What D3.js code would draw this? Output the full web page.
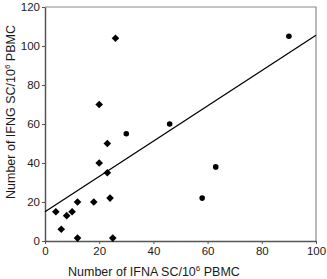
<!DOCTYPE html>
<html>
<head>
<meta charset="utf-8">
<script src="https://cdn.jsdelivr.net/npm/d3@7"></script>
<style>
  body { margin: 0; background: #fff; }
  text { font-family: "Liberation Sans", Arial, sans-serif; fill: #1a1a1a; }
</style>
</head>
<body>
<div id="chart"></div>
<script>
// diamonds
const diamondX = [4, 6, 8, 10, 12, 12, 18, 20, 20, 23, 23, 24, 25, 26];
const diamondY = [15, 6, 13, 15, 20, 1.5, 20, 70, 40, 50, 35, 22, 1.5, 104];
// circles
const circleX = [30, 46, 58, 63, 90];
const circleY = [55, 60, 22, 38, 105];
// regression line endpoints
const fitX = [0, 100];
const fitY = [15, 105.5];
const xTicks = [0, 20, 40, 60, 80, 100];
const yTicks = [0, 20, 40, 60, 80, 100, 120];

const width = 327, height = 279;
const margin = { top: 7, right: 11, bottom: 38, left: 45 };

const svg = d3.select("#chart").append("svg")
  .attr("width", width)
  .attr("height", height);

const x = d3.scaleLinear().domain([0, 100]).range([margin.left, width - margin.right]);
const y = d3.scaleLinear().domain([0, 120]).range([height - margin.bottom, margin.top]);

// top & right frame
svg.append("path")
  .attr("d", `M${x(0)},${y(120)}H${x(100)}V${y(0)}`)
  .attr("fill", "none")
  .attr("stroke", "#8a8a8a")
  .attr("stroke-width", 1.2);

const xAxis = svg.append("g")
  .attr("transform", `translate(0,${y(0)})`)
  .call(d3.axisBottom(x).tickValues(xTicks).tickSize(3).tickSizeOuter(0));
const yAxis = svg.append("g")
  .attr("transform", `translate(${x(0)},0)`)
  .call(d3.axisLeft(y).tickValues(yTicks).tickSize(3).tickSizeOuter(0));

[xAxis, yAxis].forEach(g => {
  g.select(".domain").attr("stroke", "#555").attr("stroke-width", 1.5);
  g.selectAll(".tick line").attr("stroke", "#555");
  g.selectAll(".tick text")
    .style("font-size", "11.5px")
    .style("font-family", "Liberation Sans, Arial, sans-serif")
    .attr("fill", "#1a1a1a");
});
yAxis.selectAll(".tick text").attr("x", -5);
xAxis.selectAll(".tick text").attr("y", 6);

// fit line
svg.append("line")
  .attr("x1", x(fitX[0])).attr("y1", y(fitY[0]))
  .attr("x2", x(fitX[1])).attr("y2", y(fitY[1]))
  .attr("stroke", "#000")
  .attr("stroke-width", 1.3);

const diamonds = diamondX.map((d, i) => [d, diamondY[i]]);
const circles = circleX.map((d, i) => [d, circleY[i]]);

svg.selectAll(".dia")
  .data(diamonds)
  .join("path")
  .attr("class", "dia")
  .attr("transform", d => `translate(${x(d[0])},${y(d[1])})`)
  .attr("d", "M0,-3.8L3.8,0L0,3.8L-3.8,0Z")
  .attr("fill", "#000");

svg.selectAll(".circ")
  .data(circles)
  .join("circle")
  .attr("class", "circ")
  .attr("cx", d => x(d[0]))
  .attr("cy", d => y(d[1]))
  .attr("r", 2.8)
  .attr("fill", "#000");

// axis labels
const xl = svg.append("text")
  .attr("x", 68)
  .attr("y", 275.5)
  .style("font-size", "12.5px");
xl.append("tspan").text("Number of IFNA SC/10");
xl.append("tspan").attr("dy", -5).style("font-size", "8px").text("6");
xl.append("tspan").attr("dy", 5).text(" PBMC");

const yl = svg.append("text")
  .attr("transform", "translate(14.5,199) rotate(-90)")
  .style("font-size", "12.5px");
yl.append("tspan").text("Number of IFNG SC/10");
yl.append("tspan").attr("dy", -5).style("font-size", "8px").text("6");
yl.append("tspan").attr("dy", 5).text(" PBMC");
</script>
</body>
</html>
